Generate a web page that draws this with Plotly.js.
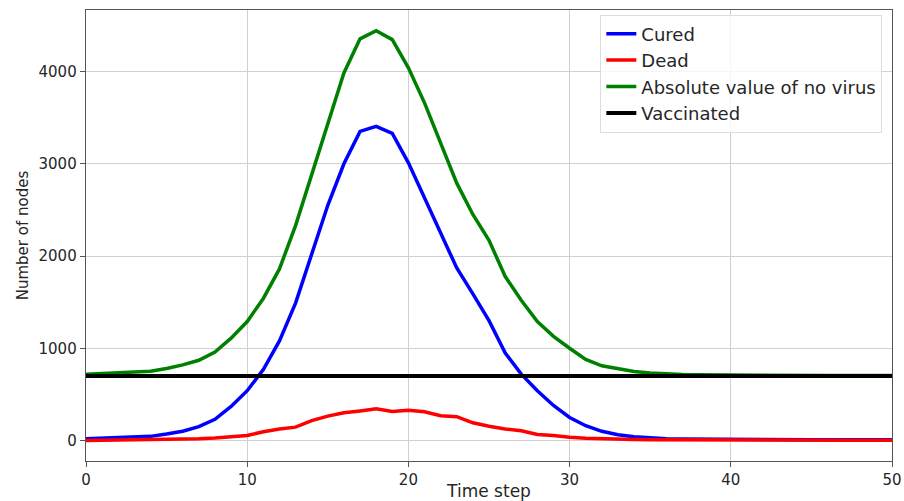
<!DOCTYPE html>
<html>
<head>
<meta charset="utf-8">
<script src="https://cdn.plot.ly/plotly-3.0.1.min.js"></script>
<style>
  html, body { margin: 0; padding: 0; background: #ffffff; }
  #chart { width: 904px; height: 501px; }
</style>
</head>
<body>
<div id="chart"></div>
<script>
// Time steps 0..50
const timeSteps = [0,1,2,3,4,5,6,7,8,9,10,11,12,13,14,15,16,17,18,19,20,
  21,22,23,24,25,26,27,28,29,30,31,32,33,34,35,36,37,38,39,40,
  41,42,43,44,45,46,47,48,49,50];

// Number of cured nodes per step
const cured = [20,28,35,40,45,70,100,150,230,370,540,770,1080,1490,2020,2550,3000,3351,3405,3330,3010,
  2630,2250,1870,1590,1300,950,720,540,380,250,160,100,62,42,28,20,16,14,12,11,
  10,10,9,9,9,8,8,8,8,8];

// Number of dead nodes per step
const dead = [0,2,5,8,10,12,15,20,28,38,55,95,125,145,215,265,300,320,343,315,328,
  312,268,258,192,155,125,105,65,55,35,25,18,13,10,8,7,6,5,5,5,
  4,4,4,4,4,3,3,3,3,3];

// Absolute value of nodes without virus per step
const noVirus = [718,728,736,744,752,780,820,870,960,1110,1290,1540,1860,2330,2890,3450,3985,4354,4443,4346,4040,
  3660,3220,2790,2450,2170,1780,1520,1290,1130,1000,880,810,775,748,732,722,716,712,710,708,
  707,707,706,706,705,705,705,705,705,705];

// Vaccinated nodes (constant)
const vaccinated = [700,700,700,700,700,700,700,700,700,700,700,
  700,700,700,700,700,700,700,700,700,700,700,700,700,700,700,
  700,700,700,700,700,700,700,700,700,700,700,700,700,700,700,
  700,700,700,700,700,700,700,700,700,700];

const xTicks = [0,10,20,30,40,50];
const yTicks = [0,1000,2000,3000,4000];

const traces = [
  {x: timeSteps, y: cured, name: 'Cured', mode: 'lines', line: {color: '#0000ff', width: 3.5}},
  {x: timeSteps, y: dead, name: 'Dead', mode: 'lines', line: {color: '#ff0000', width: 3.5}},
  {x: timeSteps, y: noVirus, name: 'Absolute value of no virus', mode: 'lines', line: {color: '#008000', width: 3.5}},
  {x: timeSteps, y: vaccinated, name: 'Vaccinated', mode: 'lines', line: {color: '#000000', width: 4}}
];

const axisCommon = {
  showgrid: true,
  gridcolor: '#d0d0d0',
  gridwidth: 1,
  zeroline: false,
  showline: true,
  linecolor: '#555555',
  linewidth: 1.3,
  mirror: true,
  ticks: 'outside',
  ticklen: 5,
  tickcolor: '#555555',
  tickfont: {family: 'DejaVu Sans', size: 15, color: '#262626'}
};

const layout = {
  width: 904,
  height: 501,
  margin: {l: 86, r: 12, t: 10, b: 40},
  paper_bgcolor: '#ffffff',
  plot_bgcolor: '#ffffff',
  font: {family: 'DejaVu Sans', color: '#262626'},
  xaxis: Object.assign({}, axisCommon, {
    range: [0, 50],
    tickvals: xTicks,
    ticktext: xTicks.map(String),
    title: {text: 'Time step', font: {family: 'DejaVu Sans', size: 17, color: '#262626'}, standoff: 2}
  }),
  yaxis: Object.assign({}, axisCommon, {
    range: [-222, 4667],
    tickvals: yTicks,
    ticktext: yTicks.map(String),
    title: {text: 'Number of nodes', font: {family: 'DejaVu Sans', size: 15, color: '#262626'}, standoff: 6}
  }),
  showlegend: true,
  legend: {
    x: 0.988, y: 0.99, xanchor: 'right', yanchor: 'top',
    bgcolor: 'rgba(255,255,255,0.8)',
    bordercolor: '#dddddd',
    borderwidth: 1,
    font: {family: 'DejaVu Sans', size: 18, color: '#262626'}
  }
};

Plotly.newPlot('chart', traces, layout, {displayModeBar: false, staticPlot: true});
</script>
</body>
</html>
